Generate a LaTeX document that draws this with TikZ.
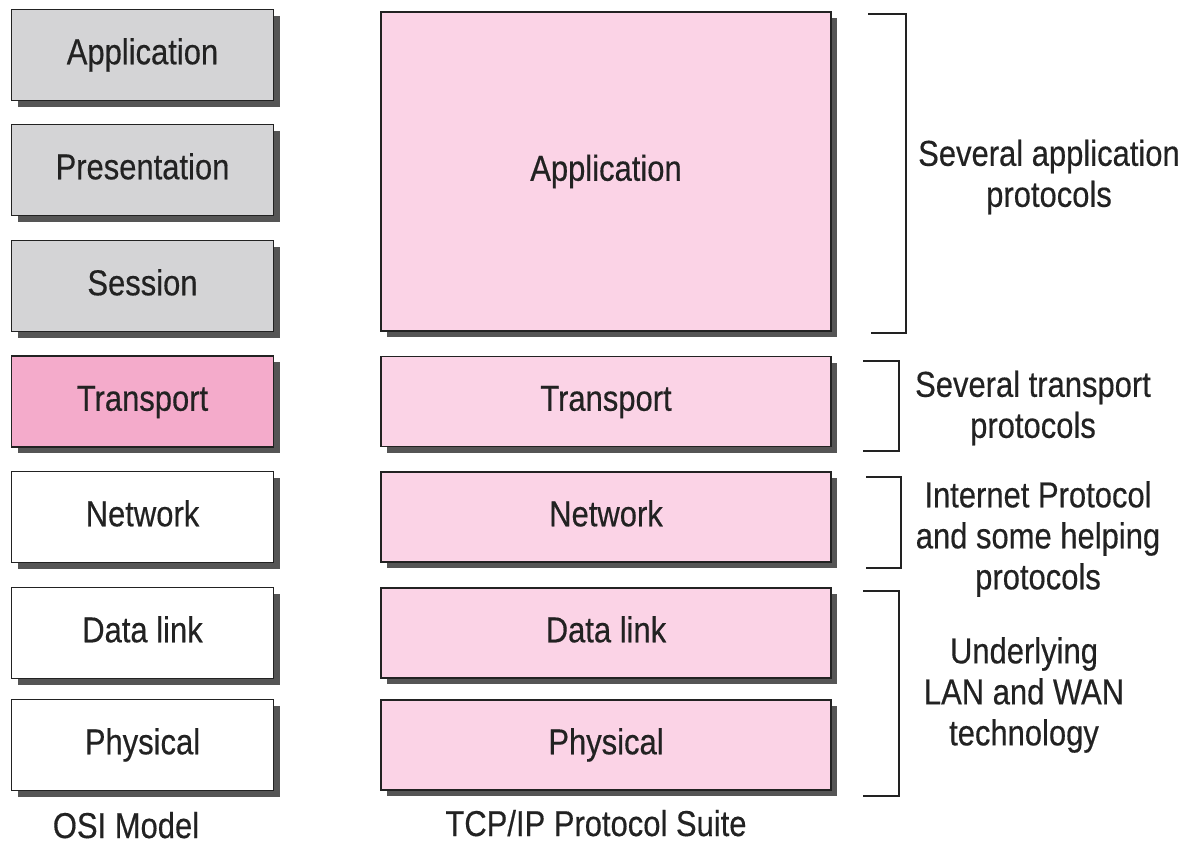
\documentclass[tikz,border=0pt]{standalone}
\usepackage{fontspec}
\setmainfont{Liberation Sans}[FakeStretch=0.86,FakeBold=0.4]
\usetikzlibrary{shadows}
\definecolor{osigray}{HTML}{D4D4D6}
\definecolor{tpink}{HTML}{F4ABCB}
\definecolor{lpink}{HTML}{FBD3E6}
\definecolor{shade}{HTML}{555555}
\definecolor{ink}{HTML}{222222}

\begin{document}
\begin{tikzpicture}[x=1pt,y=-1pt,
  layer/.style={rectangle,draw=ink,line width=1.8pt,inner sep=0pt,
    text=ink,font=\fontsize{36}{41}\selectfont,text height=26pt,text depth=7.5pt,
    drop shadow={shadow xshift=6pt,shadow yshift=-6pt,fill=shade,opacity=1}},
  osi layer/.style={layer,minimum width=262pt,minimum height=91pt},
  tcp layer/.style={layer,fill=lpink,minimum width=450pt,minimum height=90pt},
  note/.style={align=center,text=ink,font=\fontsize{36}{41}\selectfont},
  bracket/.style={draw=ink,line width=1.6pt}]

  \useasboundingbox (0,0) rectangle (1182,844);

  % OSI model
  \node[osi layer,fill=osigray] (oapp) at (142.5,55) {Application};
  \node[osi layer,fill=osigray] (opre) at (142.5,170) {Presentation};
  \node[osi layer,fill=osigray] (oses) at (142.5,286) {Session};
  \node[osi layer,fill=tpink] (otra) at (142.5,401.5) {Transport};
  \node[osi layer,fill=white] (onet) at (142.5,517) {Network};
  \node[osi layer,fill=white] (odl) at (142.5,633) {Data link};
  \node[osi layer,fill=white] (ophy) at (142.5,745) {Physical};

  % TCP/IP suite
  \node[tcp layer,minimum height=319pt] (tapp) at (606,171.5) {Application};
  \node[tcp layer] (ttra) at (606,401.5) {Transport};
  \node[tcp layer] (tnet) at (606,517) {Network};
  \node[tcp layer] (tdl) at (606,633) {Data link};
  \node[tcp layer] (tphy) at (606,745) {Physical};

  \node[note,anchor=base] (losi) at (126,838) {OSI Model};
  \node[note,anchor=base] (ltcp) at (596,836) {TCP/IP Protocol Suite};

  % brackets
  \draw[bracket] (868,14) -- (906,14) -- (906,333) -- (871,333);
  \draw[bracket] (863,361) -- (899,361) -- (899,451) -- (863,451);
  \draw[bracket] (866,477) -- (901,477) -- (901,568) -- (866,568);
  \draw[bracket] (863,591) -- (899,591) -- (899,796) -- (863,796);

  \node[note] (napp) at (1049,177) {Several application\\protocols};
  \node[note] (ntra) at (1033,408) {Several transport\\protocols};
  \node[note] (nnet) at (1038,539) {Internet Protocol\\and some helping\\protocols};
  \node[note] (nlan) at (1024,695) {Underlying\\LAN and WAN\\technology};
\end{tikzpicture}
\end{document}
